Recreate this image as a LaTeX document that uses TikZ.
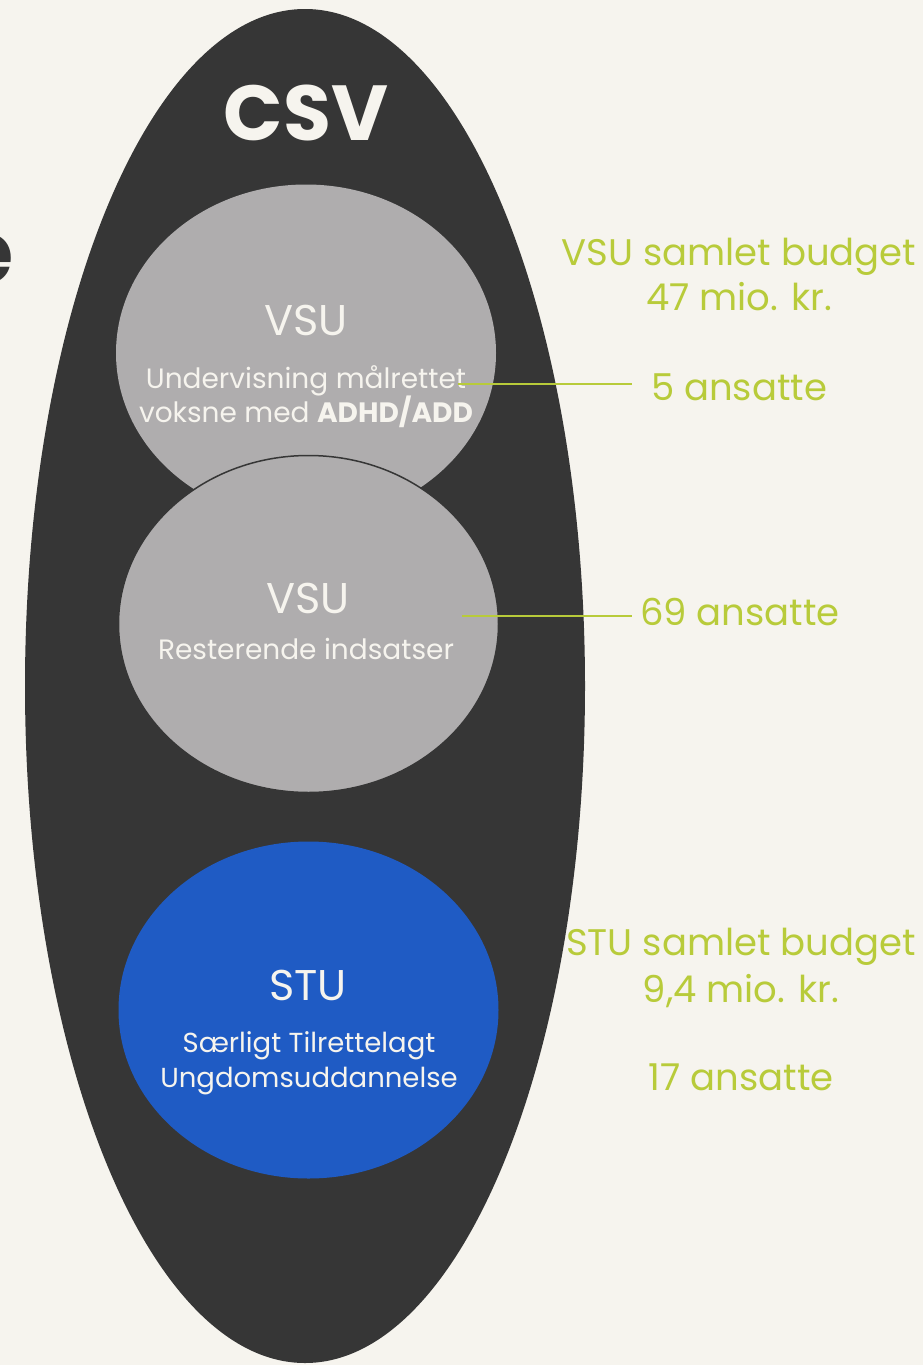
\documentclass[tikz,border=0pt]{standalone}
\usepackage{fontspec}
\setmainfont{Poppins}
\usepackage{xcolor}
\usepackage{tikz}
\usetikzlibrary{shapes.geometric, positioning}
\definecolor{bg}{HTML}{F6F4EE}
\definecolor{mork}{HTML}{363636}
\definecolor{graa}{HTML}{AFADAE}
\definecolor{blaa}{HTML}{1F5BC4}
\definecolor{groen}{HTML}{B8CB3A}

\begin{document}
\begin{tikzpicture}[x=1pt, y=-1pt,
    cirkel/.style={ellipse, minimum width=380pt, minimum height=337pt, inner sep=0pt},
    hvid/.style={text=bg, anchor=base, inner sep=0pt},
    groentekst/.style={text=groen, font=\fontsize{37}{44}\selectfont, anchor=base, inner sep=0pt},
    forbind/.style={groen, line width=1.5pt}]
    % 背景
    \fill[bg] (0,0) rectangle (923,1365);
    \useasboundingbox (0,0) rectangle (923,1365);

    % 被裁掉的标题
    \node[text=mork, font=\fontsize{88}{100}\selectfont\bfseries, anchor=base east, inner sep=0pt] (titel) at (14,283) {e};

    % 大椭圆
    \node[ellipse, fill=mork, minimum width=560pt, minimum height=1354pt, inner sep=0pt] (csv) at (305,686) {};
    \node[hvid, font=\fontsize{78}{90}\selectfont\bfseries] (csvnavn) at (306,140) {CSV};

    % 三个圆
    \node[cirkel, fill=graa] (vsuA) at (306,353) {};
    \node[cirkel, fill=graa, draw=mork, line width=1.5pt] (vsuB) at (308.5,624) {};
    \node[cirkel, fill=blaa] (stu) at (308.5,1010) {};

    % 圆内文字
    \node[hvid, font=\fontsize{43}{50}\selectfont] (vsuAnavn) at (306,335) {VSU};
    \node[hvid, font=\fontsize{28}{32}\selectfont] (vsuAl1) at (306,388) {Undervisning målrettet};
    \node[hvid, font=\fontsize{28}{32}\selectfont] (vsuAl2) at (306,422) {voksne med \textbf{ADHD/ADD}};
    \node[hvid, font=\fontsize{43}{50}\selectfont] (vsuBnavn) at (308,613) {VSU};
    \node[hvid, font=\fontsize{28}{32}\selectfont] (vsuBl1) at (306,659) {Resterende indsatser};
    \node[hvid, font=\fontsize{43}{50}\selectfont] (stunavn) at (308,1000) {STU};
    \node[hvid, font=\fontsize{27.5}{32}\selectfont] (stul1) at (309,1052) {Særligt Tilrettelagt};
    \node[hvid, font=\fontsize{27.5}{32}\selectfont] (stul2) at (309,1087) {Ungdomsuddannelse};

    % 右侧数字
    \node[groentekst] (vsubudget) at (739,265) {VSU samlet budget};
    \node[groentekst] (vsumio) at (739,310) {47 mio. kr.};
    \node[groentekst] (ans5) at (739,400) {5 ansatte};
    \node[groentekst] (ans69) at (740,625) {69 ansatte};
    \node[groentekst] (stubudget) at (741,955) {STU samlet budget};
    \node[groentekst] (stumio) at (741,1002) {9,4 mio. kr.};
    \node[groentekst] (ans17) at (741,1090) {17 ansatte};

    % 连线
    \coordinate (a1) at (458,384);
    \coordinate (b1) at (632,384);
    \coordinate (a2) at (462,616);
    \coordinate (b2) at (632,616);
    \draw[forbind] (a1) -- (b1);
    \draw[forbind] (a2) -- (b2);
\end{tikzpicture}
\end{document}
